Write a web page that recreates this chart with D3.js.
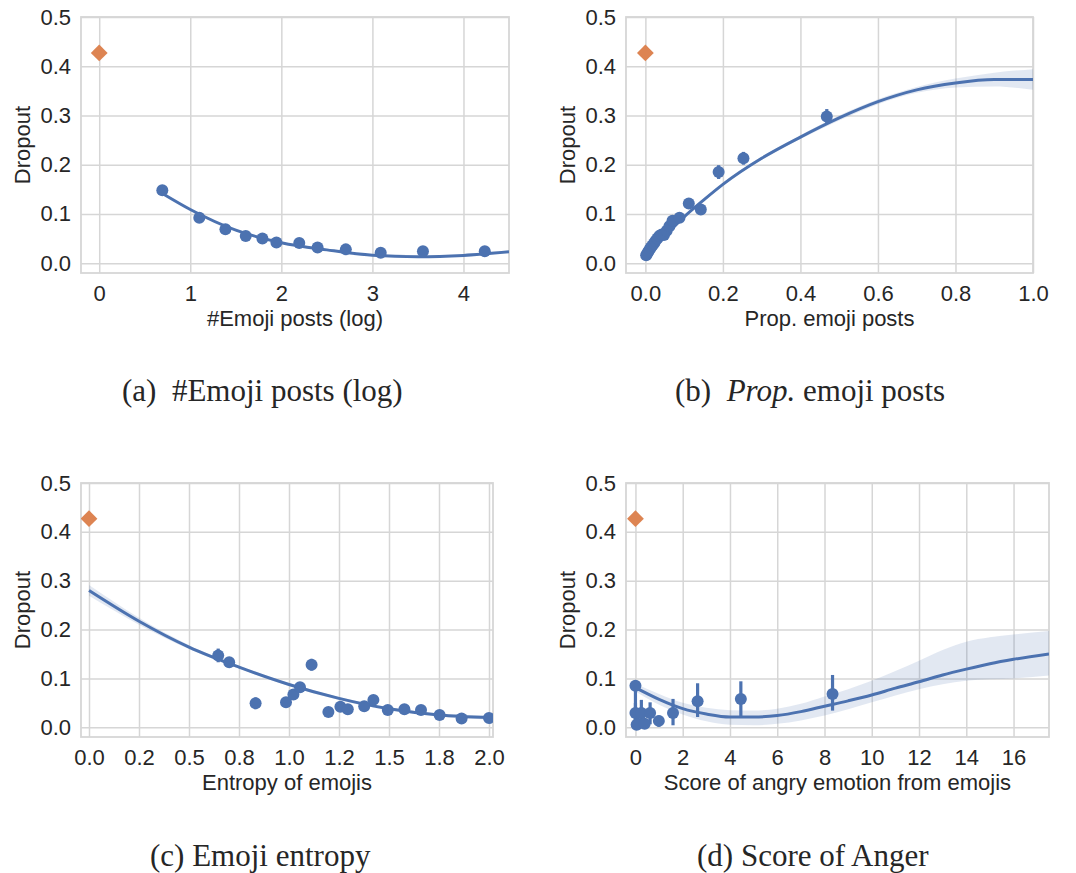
<!DOCTYPE html>
<html>
<head>
<meta charset="utf-8">
<script src="https://cdnjs.cloudflare.com/ajax/libs/d3/7.8.5/d3.min.js"></script>
<style>
  body { margin: 0; background: #fff; }
  svg text { fill: #262626; }
</style>
</head>
<body>
<script>
// ---- data ----
const yTicks = [0, 0.1, 0.2, 0.3, 0.4, 0.5];
const yTickLabels = ["0.0", "0.1", "0.2", "0.3", "0.4", "0.5"];
const noEmojiDropout = 0.427; // orange diamond, users without emoji

// (a) #Emoji posts (log)
const aTicks = [0, 1, 2, 3, 4];
const aTickLabels = ["0", "1", "2", "3", "4"];
const aX = [0.693, 1.099, 1.386, 1.609, 1.792, 1.946, 2.197, 2.398, 2.708, 3.091, 3.555, 4.234];
const aY = [0.148, 0.092, 0.069, 0.055, 0.050, 0.042, 0.041, 0.032, 0.028, 0.021, 0.024, 0.024];
const aErr = [0.004, 0.004, 0.003, 0.003, 0.003, 0.003, 0.003, 0.003, 0.003, 0.003, 0.003, 0.003];
const aFitX = [0.69, 1.0, 1.5, 2.0, 2.5, 3.0, 3.5, 4.0, 4.5];
const aFitY = [0.142, 0.109, 0.067, 0.0415, 0.027, 0.016, 0.013, 0.0157, 0.023];

// (b) Prop. emoji posts
const bTicks = [0, 0.2, 0.4, 0.6, 0.8, 1.0];
const bTickLabels = ["0.0", "0.2", "0.4", "0.6", "0.8", "1.0"];
const bX = [0.002, 0.005, 0.008, 0.011, 0.014, 0.018, 0.022, 0.026, 0.031, 0.036, 0.042, 0.048, 0.055, 0.062, 0.07, 0.088, 0.112, 0.143, 0.189, 0.253, 0.468];
const bY = [0.016, 0.02, 0.024, 0.028, 0.032, 0.036, 0.04, 0.045, 0.05, 0.055, 0.058, 0.057, 0.066, 0.075, 0.086, 0.092, 0.121, 0.109, 0.185, 0.213, 0.298];
const bErr = [0.004, 0.004, 0.004, 0.004, 0.004, 0.004, 0.004, 0.004, 0.004, 0.004, 0.004, 0.005, 0.005, 0.005, 0.006, 0.006, 0.01, 0.009, 0.014, 0.013, 0.015];
const bFitX = [0, 0.05, 0.1, 0.15, 0.2, 0.3, 0.4, 0.5, 0.6, 0.7, 0.8, 0.9, 1.0];
const bFitY = [0.017, 0.055, 0.094, 0.128, 0.16, 0.213, 0.256, 0.295, 0.328, 0.352, 0.366, 0.373, 0.373];
const bBandLo = [0.013, 0.052, 0.091, 0.125, 0.157, 0.21, 0.252, 0.29, 0.323, 0.346, 0.357, 0.359, 0.352];
const bBandHi = [0.021, 0.058, 0.097, 0.131, 0.163, 0.216, 0.26, 0.3, 0.333, 0.358, 0.375, 0.387, 0.394];

// (c) Emoji entropy
const cTicks = [0, 0.25, 0.5, 0.75, 1.0, 1.25, 1.5, 1.75, 2.0];
const cTickLabels = ["0.0", "0.2", "0.5", "0.8", "1.0", "1.2", "1.5", "1.8", "2.0"];
const cX = [0.646, 0.701, 0.833, 0.985, 1.022, 1.055, 1.113, 1.197, 1.257, 1.294, 1.376, 1.422, 1.494, 1.577, 1.66, 1.753, 1.863, 2.0];
const cY = [0.147, 0.133, 0.049, 0.051, 0.067, 0.082, 0.128, 0.031, 0.042, 0.037, 0.043, 0.056, 0.0355, 0.037, 0.0355, 0.025, 0.018, 0.019];
const cErr = [0.014, 0.007, 0.012, 0.008, 0.009, 0.008, 0.012, 0.009, 0.007, 0.008, 0.007, 0.009, 0.006, 0.006, 0.006, 0.005, 0.004, 0.004];
const cFitX = [0, 0.25, 0.5, 0.75, 1.0, 1.25, 1.5, 1.75, 2.0];
const cFitY = [0.28, 0.217, 0.164, 0.123, 0.0875, 0.059, 0.0377, 0.025, 0.02];
const cBandLo = [0.269, 0.21, 0.16, 0.12, 0.0845, 0.056, 0.0347, 0.022, 0.016];
const cBandHi = [0.291, 0.224, 0.168, 0.126, 0.0905, 0.062, 0.0407, 0.028, 0.024];

// (d) Score of Anger
const dTicks = [0, 2, 4, 6, 8, 10, 12, 14, 16];
const dTickLabels = ["0", "2", "4", "6", "8", "10", "12", "14", "16"];
const dX = [0, 0, 0.05, 0.11, 0.25, 0.39, 0.62, 0.99, 1.59, 2.63, 4.46, 8.34];
const dY = [0.085, 0.029, 0.005, 0.007, 0.029, 0.007, 0.029, 0.013, 0.029, 0.053, 0.058, 0.068];
const dLo = [0.01, 0.005, 0.0, 0.0, 0.004, 0.0, 0.006, 0.001, 0.004, 0.021, 0.021, 0.034];
const dHi = [0.087, 0.05, 0.01, 0.015, 0.056, 0.015, 0.051, 0.024, 0.058, 0.09, 0.094, 0.107];
const dFitX = [0, 1, 2, 3, 4, 5, 6, 7, 8, 9, 10, 11, 12, 13, 14, 15, 16, 17.5];
const dFitY = [0.081, 0.057, 0.038, 0.027, 0.021, 0.021, 0.024, 0.032, 0.043, 0.054, 0.066, 0.08, 0.093, 0.107, 0.119, 0.13, 0.139, 0.15];
const dBandLo = [0.073, 0.046, 0.026, 0.012, 0.005, 0.004, 0.007, 0.014, 0.024, 0.037, 0.051, 0.065, 0.078, 0.088, 0.095, 0.098, 0.1, 0.106];
const dBandHi = [0.089, 0.068, 0.05, 0.04, 0.035, 0.034, 0.038, 0.048, 0.063, 0.078, 0.095, 0.115, 0.136, 0.158, 0.175, 0.184, 0.19, 0.197];

// ---- style ----
const blue = "#4c72b0", orange = "#dd8452", gridColor = "#d6d6d6";
const sans = "'Liberation Sans', Arial, sans-serif";
const serif = "'Liberation Serif', 'Times New Roman', serif";
const fontSize = 22;

const svg = d3.select("body").append("svg")
  .attr("width", 1076).attr("height", 873);

function pts(xs, ys, lo, hi) {
  return xs.map((x, i) => ({ x: x, y: ys[i], lo: lo[i], hi: hi[i] }));
}
function fit(xs, ys, lo, hi) {
  return xs.map((x, i) => ({ x: x, y: ys[i], lo: lo ? lo[i] : null, hi: hi ? hi[i] : null }));
}

const panels = [
  { left: 81, right: 509, top: 17, bottom: 273, xDomain: [-0.2, 4.5],
    ticks: aTicks, labels: aTickLabels, xLabel: "#Emoji posts (log)",
    points: pts(aX, aY, aY.map((v, i) => v - aErr[i]), aY.map((v, i) => v + aErr[i])),
    fit: fit(aFitX, aFitY) },
  { left: 626, right: 1033, top: 17, bottom: 273, xDomain: [-0.05, 1.0],
    ticks: bTicks, labels: bTickLabels, xLabel: "Prop. emoji posts",
    points: pts(bX, bY, bY.map((v, i) => v - bErr[i]), bY.map((v, i) => v + bErr[i])),
    fit: fit(bFitX, bFitY, bBandLo, bBandHi) },
  { left: 81, right: 493, top: 483, bottom: 737, xDomain: [-0.04, 2.02],
    ticks: cTicks, labels: cTickLabels, xLabel: "Entropy of emojis",
    points: pts(cX, cY, cY.map((v, i) => v - cErr[i]), cY.map((v, i) => v + cErr[i])),
    fit: fit(cFitX, cFitY, cBandLo, cBandHi) },
  { left: 626, right: 1049, top: 483, bottom: 737, xDomain: [-0.4, 17.5],
    ticks: dTicks, labels: dTickLabels, xLabel: "Score of angry emotion from emojis",
    points: pts(dX, dY, dLo, dHi),
    fit: fit(dFitX, dFitY, dBandLo, dBandHi) }
];

panels.forEach((p, k) => {
  const x = d3.scaleLinear().domain(p.xDomain).range([p.left, p.right]);
  const y = d3.scaleLinear().domain([-0.02, 0.5]).range([p.bottom, p.top]);
  const g = svg.append("g");

  g.append("clipPath").attr("id", "clip" + k)
    .append("rect").attr("x", p.left).attr("y", p.top)
    .attr("width", p.right - p.left).attr("height", p.bottom - p.top);

  // grid + tick labels
  const styleAxis = a => {
    a.attr("font-family", sans).attr("font-size", fontSize);
    a.select(".domain").remove();
    a.selectAll(".tick line").attr("stroke", gridColor).attr("stroke-width", 1.5);
    a.selectAll(".tick text").attr("fill", "#262626");
  };
  g.append("g").attr("transform", `translate(0,${p.bottom})`)
    .call(d3.axisBottom(x).tickValues(p.ticks).tickFormat((d, i) => p.labels[i])
      .tickSize(-(p.bottom - p.top)).tickPadding(12))
    .call(styleAxis);
  g.append("g").attr("transform", `translate(${p.left},0)`)
    .call(d3.axisLeft(y).tickValues(yTicks).tickFormat((d, i) => yTickLabels[i])
      .tickSize(-(p.right - p.left)).tickPadding(10))
    .call(styleAxis);

  // frame
  g.append("rect").attr("x", p.left).attr("y", p.top)
    .attr("width", p.right - p.left).attr("height", p.bottom - p.top)
    .attr("fill", "none").attr("stroke", gridColor).attr("stroke-width", 1.8);

  // axis titles
  g.append("text").attr("x", (p.left + p.right) / 2).attr("y", p.bottom + 53)
    .attr("text-anchor", "middle").attr("font-family", sans).attr("font-size", fontSize)
    .text(p.xLabel);
  g.append("text")
    .attr("transform", `translate(${p.left - 51},${(p.top + p.bottom) / 2}) rotate(-90)`)
    .attr("text-anchor", "middle").attr("font-family", sans).attr("font-size", fontSize)
    .text("Dropout");

  const plot = g.append("g").attr("clip-path", `url(#clip${k})`);

  // confidence band
  if (p.fit[0].lo !== null) {
    plot.append("path").datum(p.fit)
      .attr("fill", blue).attr("fill-opacity", 0.16)
      .attr("d", d3.area().curve(d3.curveMonotoneX)
        .x(d => x(d.x)).y0(d => y(d.lo)).y1(d => y(d.hi)));
  }
  // fitted curve
  plot.append("path").datum(p.fit)
    .attr("fill", "none").attr("stroke", blue).attr("stroke-width", 3)
    .attr("d", d3.line().curve(d3.curveMonotoneX).x(d => x(d.x)).y(d => y(d.y)));

  // error bars
  plot.append("g").selectAll("line").data(p.points).join("line")
    .attr("x1", d => x(d.x)).attr("x2", d => x(d.x))
    .attr("y1", d => y(d.lo)).attr("y2", d => y(d.hi))
    .attr("stroke", blue).attr("stroke-width", 3.2);
  // binned points
  plot.append("g").selectAll("circle").data(p.points).join("circle")
    .attr("cx", d => x(d.x)).attr("cy", d => y(d.y)).attr("r", 6)
    .attr("fill", blue);

  // no-emoji reference (diamond)
  plot.append("path")
    .attr("transform", `translate(${x(0)},${y(noEmojiDropout)})`)
    .attr("d", d3.symbol(d3.symbolDiamond2, 180)())
    .attr("fill", orange);
});

// sub-captions
const captions = [
  { x: 122, y: 401, parts: [["(a)", "normal"], ["  #Emoji posts (log)", "normal"]] },
  { x: 675, y: 401, parts: [["(b)  ", "normal"], ["Prop.", "italic"], [" emoji posts", "normal"]] },
  { x: 150, y: 866, parts: [["(c) Emoji entropy", "normal"]] },
  { x: 697, y: 866, parts: [["(d) Score of Anger", "normal"]] }
];
captions.forEach(c => {
  const t = svg.append("text").attr("x", c.x).attr("y", c.y)
    .attr("font-family", serif).attr("font-size", 31)
    .attr("xml:space", "preserve").style("white-space", "pre");
  c.parts.forEach(([s, st]) => t.append("tspan").attr("font-style", st).text(s));
});
</script>
</body>
</html>
